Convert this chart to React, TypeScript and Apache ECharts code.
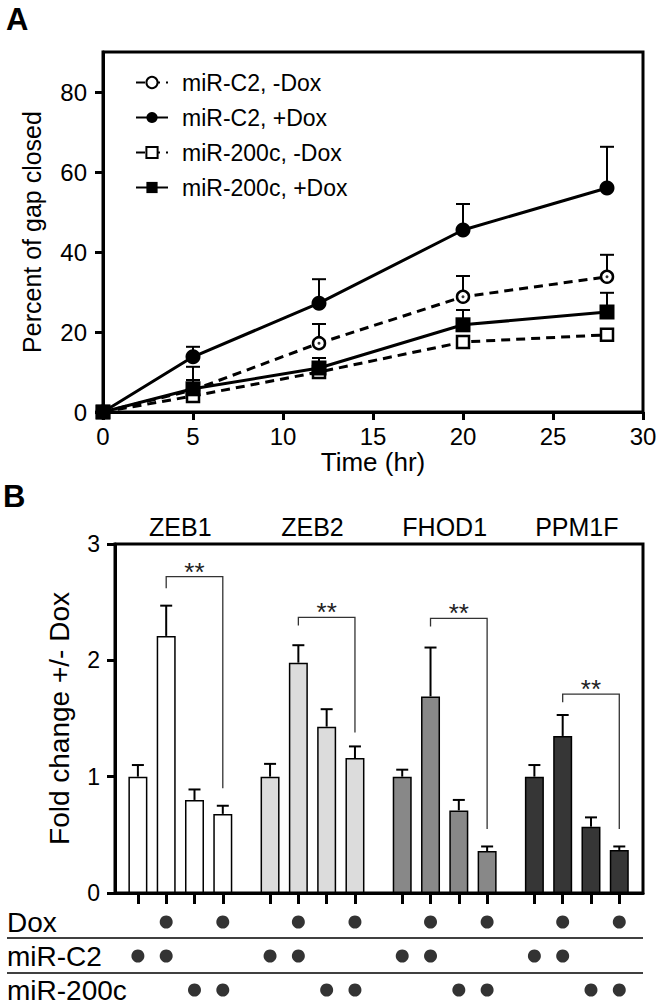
import React, { useEffect, useRef } from 'react';
import * as echarts from 'echarts';

const FONT = '"Liberation Sans", Arial, Helvetica, sans-serif';

// ---------- Panel A data ----------
const timeHours = [0, 5, 12, 20, 28];
const c2MinusDox = [0, 5.5, 17.2, 28.8, 33.8];
const c2MinusDoxErr = [0, 5.8, 4.8, 5.2, 5.5];
const c2PlusDox = [0, 13.8, 27.2, 45.5, 56];
const c2PlusDoxErr = [0, 2.5, 6, 6.5, 10.3];
const m200MinusDox = [0, 4, 10, 17.5, 19.3];
const m200MinusDoxErr = [0, 1.2, 1.2, 1.2, 1.2];
const m200PlusDox = [0, 5.8, 11, 21.8, 25];
const m200PlusDoxErr = [0, 2.2, 2.5, 3.7, 4.8];
const percentTicks = [0, 20, 40, 60, 80];

// ---------- Panel B data ----------
const genes = ['ZEB1', 'ZEB2', 'FHOD1', 'PPM1F'];
const geneColors = ['#ffffff', '#dcdcdc', '#888888', '#363636'];
const zeb1Fold = [1.0, 2.21, 0.8, 0.68];
const zeb1Err = [0.1, 0.26, 0.09, 0.07];
const zeb2Fold = [1.0, 1.98, 1.43, 1.16];
const zeb2Err = [0.11, 0.15, 0.15, 0.1];
const fhod1Fold = [1.0, 1.69, 0.71, 0.36];
const fhod1Err = [0.06, 0.42, 0.09, 0.04];
const ppm1fFold = [1.0, 1.35, 0.57, 0.37];
const ppm1fErr = [0.1, 0.18, 0.08, 0.03];
const bracketTop = [2.72, 2.37, 2.36, 1.71];
const bracketLeftEnd = [2.62, 2.3, 2.29, 1.64];
const bracketRightEnd = [0.9, 1.38, 0.55, 0.55];
const foldTicks = [0, 1, 2, 3];

// condition table
const tableRows = ['Dox', 'miR-C2', 'miR-200c'];
const doxRow = [0, 1, 0, 1];
const c2Row = [1, 1, 0, 0];
const m200Row = [0, 0, 1, 1];

const foldByGene = [zeb1Fold, zeb2Fold, fhod1Fold, ppm1fFold];
const errByGene = [zeb1Err, zeb2Err, fhod1Err, ppm1fErr];

const GROUP_STRIDE = 4.67;
const barPos = (g: number, i: number) => g * GROUP_STRIDE + i;
const allBarPositions: number[] = [];
genes.forEach((_, g) => [0, 1, 2, 3].forEach((i) => allBarPositions.push(barPos(g, i))));

const B_MIN = -0.809;
const B_MAX = 17.848;

function errRender(capHalf: number, width: number) {
  return (params: any, api: any) => {
    const x = api.value(0);
    const y = api.value(1);
    const top = api.value(2);
    const p0 = api.coord([x, y]);
    const p1 = api.coord([x, top]);
    return {
      type: 'group',
      children: [
        { type: 'line', shape: { x1: p0[0], y1: p0[1], x2: p1[0], y2: p1[1] }, style: { stroke: '#000', lineWidth: width } },
        { type: 'line', shape: { x1: p1[0] - capHalf, y1: p1[1], x2: p1[0] + capHalf, y2: p1[1] }, style: { stroke: '#000', lineWidth: width } },
      ],
    };
  };
}

function errData(vals: number[], errs: number[]) {
  return timeHours
    .map((t, i) => [t, vals[i], vals[i] + errs[i], errs[i]])
    .filter((d) => d[3] > 0)
    .map((d) => [d[0], d[1], d[2]]);
}

function lineSeries(name: string, vals: number[], dashed: boolean, symbol: string, open: boolean) {
  return {
    type: 'line',
    name,
    xAxisIndex: 0,
    yAxisIndex: 0,
    data: timeHours.map((t, i) => [t, vals[i]]),
    lineStyle: { color: '#000', width: 3, type: dashed ? [9, 6] : 'solid' },
    symbol,
    symbolSize: open ? 12 : 15,
    itemStyle: open
      ? { color: '#fff', borderColor: '#000', borderWidth: 2.5 }
      : { color: '#000', borderColor: '#000', borderWidth: 0 },
    z: 3,
  };
}

export default function App() {
  const ref = useRef<HTMLDivElement>(null);

  useEffect(() => {
    if (!ref.current) return;
    const chart = echarts.init(ref.current, undefined, { renderer: 'svg' });

    const barData: any[] = [];
    const barErrData: any[] = [];
    genes.forEach((_, g) => {
      foldByGene[g].forEach((v, i) => {
        barData.push({ value: [barPos(g, i), v], itemStyle: { color: geneColors[g] } });
        barErrData.push([barPos(g, i), v, v + errByGene[g][i]]);
      });
    });

    const bracketData = genes.map((_, g) => [barPos(g, 1), bracketTop[g], barPos(g, 3), bracketLeftEnd[g], bracketRightEnd[g]]);
    const geneLabelData = genes.map((_, g) => [(barPos(g, 0) + barPos(g, 3)) / 2, 3]);

    const tableData: any[] = [];
    const rowsFlags = [doxRow, c2Row, m200Row];
    rowsFlags.forEach((flags, r) => {
      genes.forEach((_, g) => {
        flags.forEach((f, i) => {
          if (f) tableData.push([barPos(g, i), r]);
        });
      });
    });

    const axisLineStyle = { onZero: false, lineStyle: { color: '#000', width: 3 } };
    const tickStyle = { color: '#000', width: 3 };

    const option: any = {
      animation: false,
      backgroundColor: '#fff',
      textStyle: { fontFamily: FONT },
      grid: [
        { left: 103, right: 18, top: 52, height: 360, show: true, borderColor: '#000', borderWidth: 3, containLabel: false },
        { left: 115, right: 18, top: 544, height: 349, show: true, borderColor: '#000', borderWidth: 3, containLabel: false },
        { left: 115, right: 18, top: 905, height: 106, containLabel: false },
      ],
      legend: {
        data: ['miR-C2, -Dox', 'miR-C2, +Dox', 'miR-200c, -Dox', 'miR-200c, +Dox'],
        orient: 'vertical',
        left: 135,
        top: 71,
        itemWidth: 32,
        itemHeight: 14,
        itemGap: 12,
        padding: 0,
        selectedMode: false,
        textStyle: { fontSize: 23, color: '#000', fontFamily: FONT, lineHeight: 23, padding: [0, 0, 0, 9] },
      },
      xAxis: [
        {
          type: 'value', gridIndex: 0, min: 0, max: 30, interval: 5,
          axisLine: { show: true, ...axisLineStyle },
          axisTick: { length: 8, lineStyle: tickStyle },
          axisLabel: { fontSize: 24, color: '#000', margin: 12, fontFamily: FONT },
          splitLine: { show: false },
          name: 'Time (hr)', nameLocation: 'middle', nameGap: 37,
          nameTextStyle: { fontSize: 26, color: '#000', fontFamily: FONT },
        },
        {
          type: 'value', gridIndex: 1, min: B_MIN, max: B_MAX,
          axisLine: { show: true, ...axisLineStyle },
          axisTick: { length: 11, lineStyle: tickStyle, customValues: allBarPositions },
          axisLabel: { show: false },
          splitLine: { show: false },
        },
        { type: 'value', gridIndex: 2, min: B_MIN, max: B_MAX, show: false },
      ],
      yAxis: [
        {
          type: 'value', gridIndex: 0, min: 0, max: 90,
          axisLine: { show: true, ...axisLineStyle },
          axisTick: { show: true, length: 8, lineStyle: tickStyle, customValues: percentTicks },
          axisLabel: { fontSize: 24, color: '#000', margin: 16, fontFamily: FONT, customValues: percentTicks },
          splitLine: { show: false },
          name: 'Percent of gap closed', nameLocation: 'middle', nameGap: 59,
          nameTextStyle: { fontSize: 25, color: '#000', fontFamily: FONT },
        },
        {
          type: 'value', gridIndex: 1, min: 0, max: 3, interval: 1,
          axisLine: { show: true, ...axisLineStyle },
          axisTick: { show: true, length: 8, lineStyle: tickStyle, customValues: foldTicks },
          axisLabel: { fontSize: 23, color: '#000', margin: 15, fontFamily: FONT, customValues: foldTicks },
          splitLine: { show: false },
          name: 'Fold change +/- Dox', nameLocation: 'middle', nameGap: 42,
          nameTextStyle: { fontSize: 28, color: '#000', fontFamily: FONT },
        },
        {
          type: 'category', gridIndex: 2, data: tableRows, inverse: true,
          axisLine: { show: false, onZero: false }, axisTick: { show: false }, splitLine: { show: false },
          axisLabel: { interval: 0, hideOverlap: false, align: 'left', margin: 108, fontSize: 28, color: '#000', fontFamily: FONT },
        },
      ],
      series: [
        // error bars A
        { type: 'custom', xAxisIndex: 0, yAxisIndex: 0, renderItem: errRender(7, 2), data: errData(c2MinusDox, c2MinusDoxErr), z: 1, silent: true },
        { type: 'custom', xAxisIndex: 0, yAxisIndex: 0, renderItem: errRender(7, 2), data: errData(c2PlusDox, c2PlusDoxErr), z: 1, silent: true },
        { type: 'custom', xAxisIndex: 0, yAxisIndex: 0, renderItem: errRender(7, 2), data: errData(m200MinusDox, m200MinusDoxErr), z: 1, silent: true },
        { type: 'custom', xAxisIndex: 0, yAxisIndex: 0, renderItem: errRender(7, 2), data: errData(m200PlusDox, m200PlusDoxErr), z: 1, silent: true },
        lineSeries('miR-C2, -Dox', c2MinusDox, true, 'circle', true),
        lineSeries('miR-C2, +Dox', c2PlusDox, false, 'circle', false),
        lineSeries('miR-200c, -Dox', m200MinusDox, true, 'rect', true),
        lineSeries('miR-200c, +Dox', m200PlusDox, false, 'rect', false),
        {
          type: 'scatter', xAxisIndex: 0, yAxisIndex: 0, silent: true, z: 5,
          data: timeHours.map((t, i) => [t, c2MinusDox[i]]).filter((d) => d[0] > 0),
          symbolSize: 3, itemStyle: { color: '#000' },
        },
        // bars B
        {
          type: 'bar', xAxisIndex: 1, yAxisIndex: 1, data: barData, barWidth: 19,
          itemStyle: { borderColor: '#000', borderWidth: 1.5 }, z: 2,
        },
        { type: 'custom', xAxisIndex: 1, yAxisIndex: 1, renderItem: errRender(6, 2), data: barErrData, z: 3, silent: true },
        {
          type: 'custom', xAxisIndex: 1, yAxisIndex: 1, silent: true, z: 4,
          data: bracketData,
          renderItem: (params: any, api: any) => {
            const xl = api.value(0), top = api.value(1), xr = api.value(2), le = api.value(3), re = api.value(4);
            const pLB = api.coord([xl, le]);
            const pLT = api.coord([xl, top]);
            const pRT = api.coord([xr, top]);
            const pRB = api.coord([xr, re]);
            return {
              type: 'group',
              children: [
                { type: 'polyline', shape: { points: [pLB, pLT, pRT, pRB] }, style: { stroke: '#333', lineWidth: 1.3, fill: 'none' } },
                {
                  type: 'text', x: (pLT[0] + pRT[0]) / 2, y: pLT[1] - 5,
                  style: { text: '**', fontSize: 26, fontFamily: FONT, fill: '#222', align: 'center', verticalAlign: 'middle' },
                },
              ],
            };
          },
        },
        {
          type: 'custom', xAxisIndex: 1, yAxisIndex: 1, silent: true, z: 4,
          data: geneLabelData,
          renderItem: (params: any, api: any) => {
            const p = api.coord([api.value(0), api.value(1)]);
            return {
              type: 'text', x: p[0], y: p[1] - 17,
              style: { text: genes[params.dataIndex], fontSize: 25, fontFamily: FONT, fill: '#000', align: 'center', verticalAlign: 'middle' },
            };
          },
        },
        // table dots
        {
          type: 'scatter', xAxisIndex: 2, yAxisIndex: 2, data: tableData, symbolSize: 13,
          itemStyle: { color: '#000' }, silent: true,
        },
      ],
      graphic: [
        { type: 'text', left: 6, top: 4, style: { text: 'A', fontSize: 31, fontWeight: 'bold', fontFamily: FONT, fill: '#000' } },
        { type: 'text', left: 3, top: 481, style: { text: 'B', fontSize: 31, fontWeight: 'bold', fontFamily: FONT, fill: '#000' } },
        { type: 'line', shape: { x1: 7, y1: 938, x2: 643, y2: 938 }, style: { stroke: '#000', lineWidth: 1.5 } },
        { type: 'line', shape: { x1: 7, y1: 973, x2: 643, y2: 973 }, style: { stroke: '#000', lineWidth: 1.5 } },
      ],
    };

    chart.setOption(option);
    return () => chart.dispose();
  }, []);

  return <div ref={ref} style={{ width: 661, height: 1007, position: 'absolute', left: 0, top: 0, background: '#fff' }} />;
}
